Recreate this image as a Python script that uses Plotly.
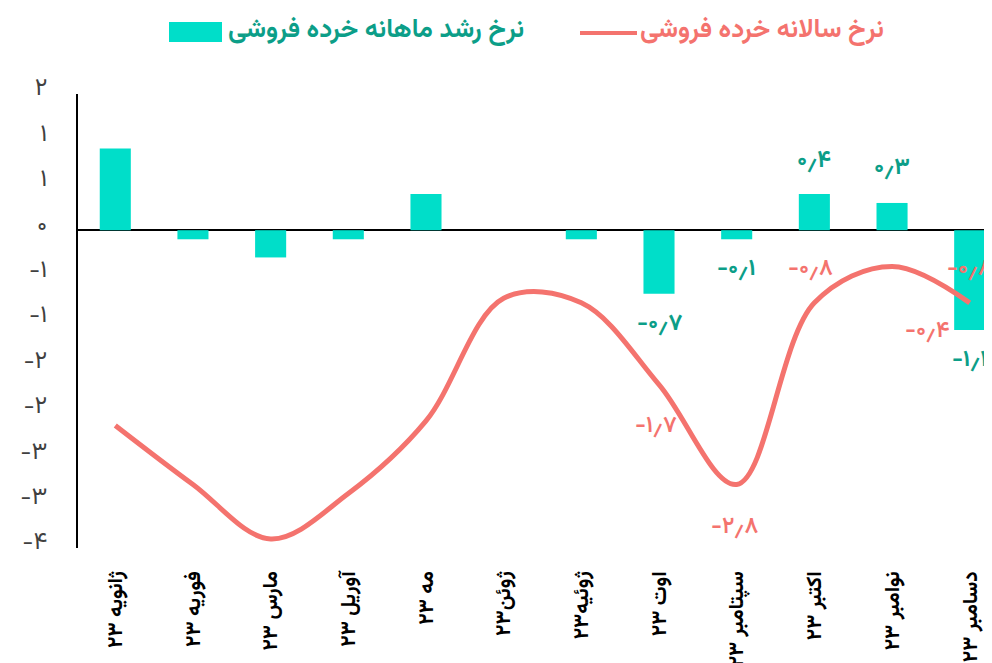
import plotly.graph_objects as go

months = ["ژانویه ۲۳", "فوریه ۲۳", "مارس ۲۳", "آوریل ۲۳", "مه ۲۳", "ژوئن۲۳",
          "ژوئیه۲۳", "اوت ۲۳", "سپتامبر ۲۳", "اکتبر ۲۳", "نوامبر ۲۳", "دسامبر ۲۳"]
monthly_growth = [0.9, -0.1, -0.3, -0.1, 0.4, 0.0, -0.1, -0.7, -0.1, 0.4, 0.3, -1.1]
annual_rate = [-2.15, -2.8, -3.4, -2.9, -2.1, -0.75, -0.8, -1.7, -2.8, -0.8, -0.4, -0.8]

y_tickvals = [1.5, 1.0, 0.5, 0.0, -0.5, -1.0, -1.5, -2.0, -2.5, -3.0, -3.5]
y_ticktext = ["۲", "۱", "۱", "۰", "-۱", "-۱", "-۲", "-۲", "-۳", "-۳", "-۴"]

bar_name = "نرخ رشد ماهانه خرده فروشی"
line_name = "نرخ سالانه خرده فروشی"

# which points get value labels, with pixel offsets (style only)
bar_label_idx = [7, 8, 9, 10, 11]
bar_label_shift = [(0, -30), (0, -30), (0, 33), (0, 35), (0, -30)]
line_label_idx = [7, 8, 9, 10, 11]
line_label_shift = [(-3, -41), (-2, -43), (-4, 34), (35, -64), (0, 34)]

TEAL = "#00DEC9"
TEAL_TXT = "#0C9E88"
RED = "#F4736E"
FONT = "Vazirmatn, DejaVu Sans, Noto Sans, sans-serif"

PERSIAN = str.maketrans("0123456789.", "۰۱۲۳۴۵۶۷۸۹٫")


def fa(v):
    return ("%.1f" % v).translate(PERSIAN)


fig = go.Figure()
fig.add_trace(go.Bar(x=months, y=monthly_growth, name=bar_name,
                     marker=dict(color=TEAL, line=dict(width=0)), width=0.4,
                     showlegend=False))
fig.add_trace(go.Scatter(x=months, y=annual_rate, name=line_name, mode="lines",
                         line=dict(color=RED, width=5, shape="spline", smoothing=1.0),
                         showlegend=False))

annotations = []
for i, (dx, dy) in zip(bar_label_idx, bar_label_shift):
    annotations.append(dict(x=months[i], y=monthly_growth[i], text="<b>" + fa(monthly_growth[i]) + "</b>",
                            showarrow=False, xshift=dx, yshift=dy,
                            font=dict(family=FONT, size=23, color=TEAL_TXT)))
for i, (dx, dy) in zip(line_label_idx, line_label_shift):
    annotations.append(dict(x=months[i], y=annual_rate[i], text=fa(annual_rate[i]),
                            showarrow=False, xshift=dx, yshift=dy,
                            font=dict(family=FONT, size=23, color=RED, weight=600)))

# page offset (browser body margin) and layout in figure pixels
OFF = 8
W, H = 992, 663
L, R, T, B = 70, 0, 86, 123
pw, ph = W - L - R, H - T - B


def px(x):
    return (x - OFF - L) / pw


def py(y):
    return (H - B - (y - OFF)) / ph


annotations.append(dict(xref="paper", yref="paper", x=px(226), y=py(30), xanchor="left",
                        yanchor="middle", text="<b>" + bar_name + "</b>", showarrow=False,
                        font=dict(family=FONT, size=26, color=TEAL_TXT)))
annotations.append(dict(xref="paper", yref="paper", x=px(638), y=py(30), xanchor="left",
                        yanchor="middle", text="<b>" + line_name + "</b>", showarrow=False,
                        font=dict(family=FONT, size=26, color=RED)))
shapes = [
    dict(type="rect", xref="paper", yref="paper", x0=px(169), x1=px(222), y0=py(42), y1=py(22),
         fillcolor=TEAL, line=dict(width=0)),
    dict(type="line", xref="paper", yref="paper", x0=px(580), x1=px(637), y0=py(33), y1=py(33),
         line=dict(color=RED, width=4)),
]

fig.update_layout(
    width=W, height=H,
    margin=dict(l=L, r=R, t=T, b=B, autoexpand=False),
    paper_bgcolor="white", plot_bgcolor="white",
    font=dict(family=FONT),
    annotations=annotations,
    shapes=shapes,
    bargap=0.6,
    xaxis=dict(range=[-0.48, 11.39], tickangle=-90, showgrid=False, showline=False,
               ticks="", tickfont=dict(family=FONT, size=21, color="black", weight="bold"),
               ticklabelstandoff=18, automargin=False, fixedrange=True),
    yaxis=dict(range=[-3.5, 1.5], tickvals=y_tickvals, ticktext=y_ticktext,
               showgrid=False, showline=True, linecolor="black", linewidth=2,
               zeroline=True, zerolinecolor="black", zerolinewidth=2,
               ticks="", tickfont=dict(family=FONT, size=24, color="#404040"),
               ticklabelstandoff=24, ticklabelshift=-7, automargin=False, fixedrange=True),
)

fig.write_html("out.html")
